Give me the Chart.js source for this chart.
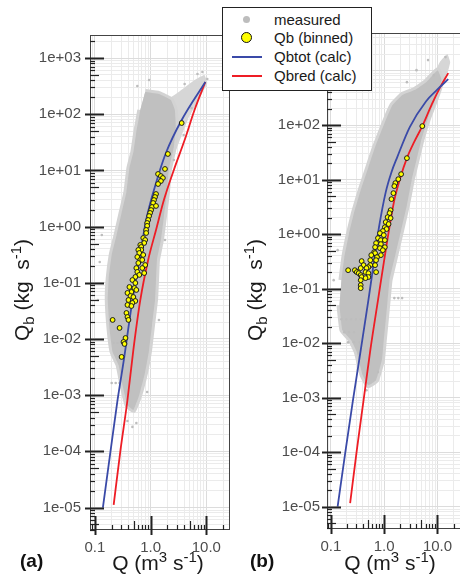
<!DOCTYPE html>
<html>
<head>
<meta charset="utf-8">
<title>Qb vs Q</title>
<script src="https://cdn.jsdelivr.net/npm/chart.js"></script>
<style>
  html, body { margin: 0; padding: 0; background: #fff; overflow: hidden; }
  body { width: 460px; height: 576px; position: relative; font-family: "Liberation Sans", Arial, sans-serif; }
  canvas { position: absolute; top: 0; }
  #chart-a { left: 0; }
  #chart-b { left: 232px; }
  #legend { position: absolute; left: 222px; top: 7px; width: 148px; height: 82px;
            border: 1.5px solid #222; background: #fff; z-index: 2; }
  .item { position: absolute; left: 0; width: 100%; height: 19px; }
  .item span.txt { position: absolute; left: 51px; top: 0; line-height: 19px; font-size: 15px; color: #1a1a1a; white-space: nowrap; }
  .dot { position: absolute; left: 20px; top: 6px; width: 7px; height: 7px; border-radius: 50%; background: #bdbdbd; }
  .circ { position: absolute; left: 18px; top: 4px; width: 11px; height: 11px; box-sizing: border-box;
          border-radius: 50%; background: #ffff00; border: 1.3px solid #111; }
  .ln { position: absolute; left: 9px; top: 8.5px; width: 30px; height: 2px; }
</style>
</head>
<body>
<canvas id="chart-a" width="235" height="576"></canvas>
<canvas id="chart-b" width="240" height="576"></canvas>
<div id="legend">
  <div class="item" style="top:2px"><div class="dot"></div><span class="txt">measured</span></div>
  <div class="item" style="top:20px"><div class="circ"></div><span class="txt">Qb (binned)</span></div>
  <div class="item" style="top:39px"><div class="ln" style="background:#3a4aa8"></div><span class="txt">Qbtot (calc)</span></div>
  <div class="item" style="top:58px"><div class="ln" style="background:#ee1d25"></div><span class="txt">Qbred (calc)</span></div>
</div>
<script>
// tick labels
const yDecades = [1e-5, 1e-4, 1e-3, 1e-2, 1e-1, 1, 10, 100, 1000];
const yLabels = ['1e-05', '1e-04', '1e-03', '1e-02', '1e-01', '1e+00', '1e+01', '1e+02', '1e+03'];
const xDecades = [0.1, 1, 10];
const xLabels = ['0.1', '1.0', '10.0'];

// ---- panel (a) : [Q, Qb] ----
// outline of the dense cloud of measured points
const aMeasuredCore = [[0.799,248],[1.41,229],[2.31,179],[2.72,119],[2.83,59.2],[2.61,26.1],[2.12,10.2],[1.96,3.96],
  [1.73,1.48],[1.53,0.578],[1.30,0.255],[1.25,0.112],[1.20,0.0494],[1.06,0.0177],[0.940,0.00637],[0.799,0.00259],
  [0.626,1.01e-3],[0.490,5.46e-4],[0.384,6.70e-4],[0.313,1.52e-3],[0.266,3.44e-3],[0.208,5.87e-3],[0.184,0.0145],
  [0.170,0.0494],[0.177,0.122],[0.200,0.313],[0.245,0.710],[0.301,1.75],[0.368,4.13],[0.416,11.0],[0.490,21.2],
  [0.554,48.2],[0.652,119]];
// sparse upper tip of the cloud
const aMeasuredTip = [[1.96,179],[3.19,248],[6.14,406],[9.22,499],[10.4,359],[7.21,179],[4.80,85.5],[3.47,37.7],
  [2.83,23.1],[2.72,64.3],[2.31,146]];
const aMeasuredPts = [[0.113,0.0494],[0.122,0.234],[0.133,0.710],[0.577,318],[0.940,406],[4.08,344],[6.93,519],
  [8.50,564],[10.4,423],[5.43,129],[3.92,42.7],[2.61,15.3],[1.81,0.578],[1.41,0.0218],[0.867,1.14e-3],
  [0.554,3.20e-4],[0.384,3.47e-4],[0.471,2.72e-4],[0.200,1.65e-3],[0.236,1.65e-3],[0.277,1.65e-3],
  [0.217,8.49e-3],[0.255,8.49e-3]];
const aBinned = [[3.61,69.7],[2.04,19.6],[1.81,10.6],[1.36,8.63],[1.53,7.94],[1.66,7.33],[1.53,6.47],[1.36,5.73],
  [1.25,3.80],[1.20,3.36],[1.15,2.97],[1.11,2.63],[1.06,2.23],[1.25,2.33],[1.02,1.97],[0.979,1.75],[0.940,1.54],
  [0.903,1.31],[0.867,1.16],[0.867,1.03],[0.832,0.871],[0.832,0.769],[0.737,0.627],[0.799,0.578],[0.767,0.511],
  [0.652,0.471],[0.679,0.434],[0.679,0.384],[0.601,0.384],[0.626,0.339],[0.737,0.313],[0.577,0.288],[0.652,0.255],
  [0.707,0.255],[0.601,0.225],[0.799,0.207],[0.554,0.183],[0.707,0.183],[0.577,0.156],[0.767,0.149],[0.626,0.138],
  [0.532,0.127],[0.471,0.112],[0.532,0.0991],[0.416,0.0841],[0.511,0.0807],[0.554,0.0745],[0.452,0.0686],
  [0.384,0.0659],[0.434,0.0582],[0.490,0.0558],[0.400,0.0494],[0.532,0.0474],[0.471,0.0437],[0.384,0.0403],
  [0.452,0.0386],[0.368,0.0290],[0.384,0.0246],[0.400,0.0218],[0.208,0.0218],[0.277,0.0157],[0.354,0.0104],
  [0.326,0.00885],[0.340,0.00815],[0.301,0.00479]];
const aQbtot = [[0.139,1.0e-5],[0.192,1.06e-4],[0.255,8.2e-4],[0.330,4.2e-3],[0.452,0.037],[0.626,0.255],
  [0.832,1.31],[1.25,5.97],[1.88,20.4],[3.61,78.9],[9.6,374]];
const aQbred = [[0.217,1.11e-5],[0.288,1.06e-4],[0.384,8.2e-4],[0.490,6.4e-3],[0.652,0.049],[0.903,0.255],
  [1.25,0.87],[1.73,2.97],[2.61,10.2],[4.08,34.7],[6.14,119],[9.6,374]];

// ---- panel (b) : [Q, Qb] ----
const bMeasuredCore = [[0.158,0.143],[0.179,0.378],[0.220,1.04],[0.271,2.43],[0.363,6.41],[0.506,16.9],[0.676,39.5],
  [1.07,124],[1.43,233],[2.17,355],[3.72,439],[6.12,615],[10.1,1020],[11.9,670],[9.29,313],[6.65,134],[4.97,53.1],
  [4.04,22.8],[3.28,9.79],[2.67,3.40],[2.08,1.18],[1.62,0.412],[1.26,0.143],[1.16,0.0615],[1.07,0.0264],
  [0.984,0.0114],[0.906,0.00488],[0.705,0.00209],[0.506,0.00169],[0.394,0.00259],[0.307,0.00684],[0.239,0.0114],
  [0.165,0.0173],[0.145,0.0498]];
const bMeasuredTip = [[7.85,728],[11.0,1430],[15.3,2010],[17.3,1430],[14.1,670],[11.0,403]];
const bMeasuredPts = [[1.55,0.0670],[1.84,0.0670],[2.17,0.0670],[0.158,0.0275],[0.195,0.0275],[0.239,0.0275],
  [0.294,0.0275],[0.363,0.0275],[0.179,0.0159],[0.220,0.0159],[0.271,0.0159],[0.211,0.0104],[0.271,0.0104],
  [0.348,0.0104],[0.506,0.00185],[0.765,0.00294],[0.466,0.00137],[4.04,1020],[6.65,1560],[14.1,1770],
  [8.53,826],[2.67,615],[0.113,0.143],[0.134,0.508]];
const bBinned = [[5.19,95.9],[2.67,24.8],[2.08,12.6],[1.84,10.2],[1.62,8.63],[1.55,7.60],[1.49,5.65],[1.37,4.39],
  [1.32,2.75],[1.26,2.43],[1.16,2.05],[1.32,1.97],[1.07,1.66],[1.21,1.53],[1.03,1.34],[1.11,1.24],[0.944,1.14],
  [0.833,1.04],[0.984,0.959],[0.765,0.845],[0.868,0.776],[1.03,0.776],[0.705,0.684],[0.868,0.656],[0.676,0.577],
  [0.833,0.553],[1.03,0.577],[0.944,0.508],[0.649,0.468],[0.676,0.448],[0.868,0.412],[0.573,0.412],[0.734,0.378],
  [0.549,0.333],[0.705,0.333],[0.378,0.320],[0.411,0.270],[0.549,0.270],[0.676,0.270],[0.506,0.248],[0.363,0.238],
  [0.466,0.238],[0.294,0.209],[0.211,0.218],[0.282,0.218],[0.307,0.201],[0.447,0.201],[0.333,0.192],[0.506,0.192],
  [0.705,0.201],[0.363,0.177],[0.378,0.163],[0.506,0.163],[0.447,0.156],[0.363,0.143],[0.363,0.116],[0.363,0.102]];
const bQbtot = [[0.134,1.0e-5],[0.187,1.0e-4],[0.260,9.0e-4],[0.363,7.4e-3],[0.506,0.0615],[0.649,0.333],
  [0.80,1.34],[1.07,5.9],[1.37,13.7],[1.76,25.9],[3.02,91.9],[6.12,275],[9.68,439],[15.9,698]];
const bQbred = [[0.230,1.16e-5],[0.307,1.09e-4],[0.411,9.0e-4],[0.549,7.4e-3],[0.766,0.0615],[1.07,0.508],
  [1.55,4.2],[2.0,10.7],[2.67,24.8],[3.72,50.8],[5.19,95.9],[7.85,243],[11.0,477],[15.9,900]];

const yTitle = [['Q', 0], ['b', -1], [' (kg  s', 0], ['-1', 1], [')', 0]];
const xTitle = [['Q (m', 0], ['3', 1], [' s', 0], ['-1', 1], [')', 0]];

const FONT = '"Liberation Sans", Arial, sans-serif';
const pts = arr => arr.map(p => ({x: p[0], y: p[1]}));

function logTicks(scale) {
  const lo = Math.floor(Math.log10(scale.min)), hi = Math.ceil(Math.log10(scale.max));
  const ticks = [];
  for (let e = lo; e <= hi; e++) {
    for (let k = 1; k <= 9; k++) {
      const v = k * Math.pow(10, e);
      if (v >= scale.min && v <= scale.max) ticks.push({value: v, major: k === 1, sig: k});
    }
  }
  scale.ticks = ticks;
}
function labelFor(value, decades, labels) {
  const i = decades.findIndex(d => Math.abs(Math.log10(value / d)) < 1e-6);
  return i >= 0 ? labels[i] : '';
}

function drawRich(ctx, parts, cx, cy, angle) {
  ctx.save();
  ctx.translate(cx, cy);
  ctx.rotate(angle);
  const size = s => (s ? 15 : 21) + 'px ' + FONT;
  let total = 0;
  parts.forEach(p => { ctx.font = size(p[1]); total += ctx.measureText(p[0]).width; });
  let x = -total / 2;
  ctx.fillStyle = '#1a1a1a';
  ctx.textBaseline = 'alphabetic';
  parts.forEach(p => {
    ctx.font = size(p[1]);
    const dy = p[1] === -1 ? 5 : (p[1] === 1 ? -8 : 0);
    ctx.fillText(p[0], x, 7 + dy);
    x += ctx.measureText(p[0]).width;
  });
  ctx.restore();
}

const decor = {
  id: 'decor',
  afterDraw(chart, args, o) {
    const {ctx, chartArea: a} = chart;
    const {x, y} = chart.scales;
    ctx.save();
    ctx.strokeStyle = '#444';
    ctx.lineWidth = 1;
    ctx.strokeRect(a.left + 0.5, a.top + 0.5, a.right - a.left - 1, a.bottom - a.top - 1);
    ctx.strokeStyle = '#222';
    y.ticks.forEach(t => {
      const py = Math.round(y.getPixelForValue(t.value)) + 0.5;
      ctx.lineWidth = t.major ? 2 : 1.2;
      const len = t.major ? 14 : (t.sig === 5 ? 9 : 5);
      ctx.beginPath();
      ctx.moveTo(a.left - (t.major ? 5 : 0), py);
      ctx.lineTo(a.left + len, py);
      ctx.stroke();
    });
    x.ticks.forEach(t => {
      const px = Math.round(x.getPixelForValue(t.value)) + 0.5;
      ctx.lineWidth = t.major ? 2 : 1.2;
      const len = t.major ? 14 : (t.sig === 5 ? 9 : 5);
      ctx.beginPath();
      ctx.moveTo(px, a.bottom + (t.major ? 5 : 0));
      ctx.lineTo(px, a.bottom - len);
      ctx.stroke();
    });
    drawRich(ctx, yTitle, o.yTitleX, o.yTitleY, -Math.PI / 2);
    drawRich(ctx, xTitle, o.xTitleX, o.xTitleY, 0);
    ctx.font = 'bold 19px ' + FONT;
    ctx.fillStyle = '#111';
    ctx.textBaseline = 'middle';
    ctx.fillText(o.tag, o.tagX, o.tagY);
    ctx.restore();
  }
};

function makeChart(id, d, o) {
  const gridColor = c => (c.tick && c.tick.major) ? '#dcdcdc' : '#ebebeb';
  return new Chart(document.getElementById(id), {
    type: 'scatter',
    data: {
      datasets: [
        {label: 'Qb (binned)', data: pts(d.binned), order: 0, pointRadius: 2.4, borderWidth: 1,
         backgroundColor: '#ffff00', borderColor: '#1a1a1a'},
        {label: 'Qbtot (calc)', data: pts(d.tot), order: 1, showLine: true, pointRadius: 0,
         borderColor: '#3a4aa8', borderWidth: 1.8, cubicInterpolationMode: 'monotone'},
        {label: 'Qbred (calc)', data: pts(d.red), order: 1, showLine: true, pointRadius: 0,
         borderColor: '#ee1d25', borderWidth: 1.8, cubicInterpolationMode: 'monotone'},
        {label: 'measured', data: pts(d.pts), order: 2, pointRadius: 1.3, borderWidth: 0,
         backgroundColor: '#bdbdbd'},
        {label: 'measured core', data: pts(d.core), order: 3, showLine: true, pointRadius: 0, borderWidth: 0,
         fill: 'shape', backgroundColor: '#c0c0c0', tension: 0.1},
        {label: 'measured rim', data: pts(d.core), order: 4, showLine: true, pointRadius: 0, borderWidth: 6,
         borderColor: '#d3d3d3', fill: 'shape', backgroundColor: '#d3d3d3', tension: 0.1},
        {label: 'measured tip', data: pts(d.tip), order: 5, showLine: true, pointRadius: 0, borderWidth: 0,
         fill: 'shape', backgroundColor: '#d6d6d6', tension: 0.1}
      ]
    },
    options: {
      responsive: false,
      devicePixelRatio: 1,
      animation: false,
      events: [],
      layout: {padding: {top: o.top, right: o.right, left: 0, bottom: 0}},
      plugins: {legend: {display: false}, tooltip: {enabled: false}, decor: o.decor},
      scales: {
        x: {
          type: 'logarithmic', position: 'bottom', min: o.xMin, max: o.xMax,
          afterBuildTicks: logTicks,
          afterFit: s => { s.height = o.xHeight; },
          grid: {color: gridColor, drawTicks: false},
          border: {display: false},
          ticks: {autoSkip: false, maxRotation: 0, padding: 9, color: '#4d4d4d',
                  font: {family: FONT, size: 15},
                  callback: v => labelFor(v, xDecades, xLabels)}
        },
        y: {
          type: 'logarithmic', position: 'left', min: o.yMin, max: o.yMax,
          afterBuildTicks: logTicks,
          afterFit: s => { s.width = o.yWidth; },
          grid: {color: gridColor, drawTicks: false},
          border: {display: false},
          ticks: {autoSkip: false, padding: o.yPad, color: '#4d4d4d',
                  font: {family: FONT, size: 15},
                  callback: v => labelFor(v, yDecades, yLabels)}
        }
      }
    },
    plugins: [decor]
  });
}

makeChart('chart-a',
  {binned: aBinned, tot: aQbtot, red: aQbred, pts: aMeasuredPts, core: aMeasuredCore, tip: aMeasuredTip},
  {top: 35, right: 3, xHeight: 46, yWidth: 90, yPad: 9,
   xMin: 0.0816, xMax: 26.6, yMin: 3.98e-6, yMax: 2570,
   decor: {yTitleX: 22, yTitleY: 290, xTitleX: 158, xTitleY: 563, tag: '(a)', tagX: 20, tagY: 562}});

makeChart('chart-b',
  {binned: bBinned, tot: bQbtot, red: bQbred, pts: bMeasuredPts, core: bMeasuredCore, tip: bMeasuredTip},
  {top: 33, right: 2, xHeight: 47, yWidth: 95, yPad: 7,
   xMin: 0.0847, xMax: 32.3, yMin: 3.89e-6, yMax: 4900,
   decor: {yTitleX: 23, yTitleY: 290, xTitleX: 158, xTitleY: 563, tag: '(b)', tagX: 18, tagY: 562}});
</script>
</body>
</html>
